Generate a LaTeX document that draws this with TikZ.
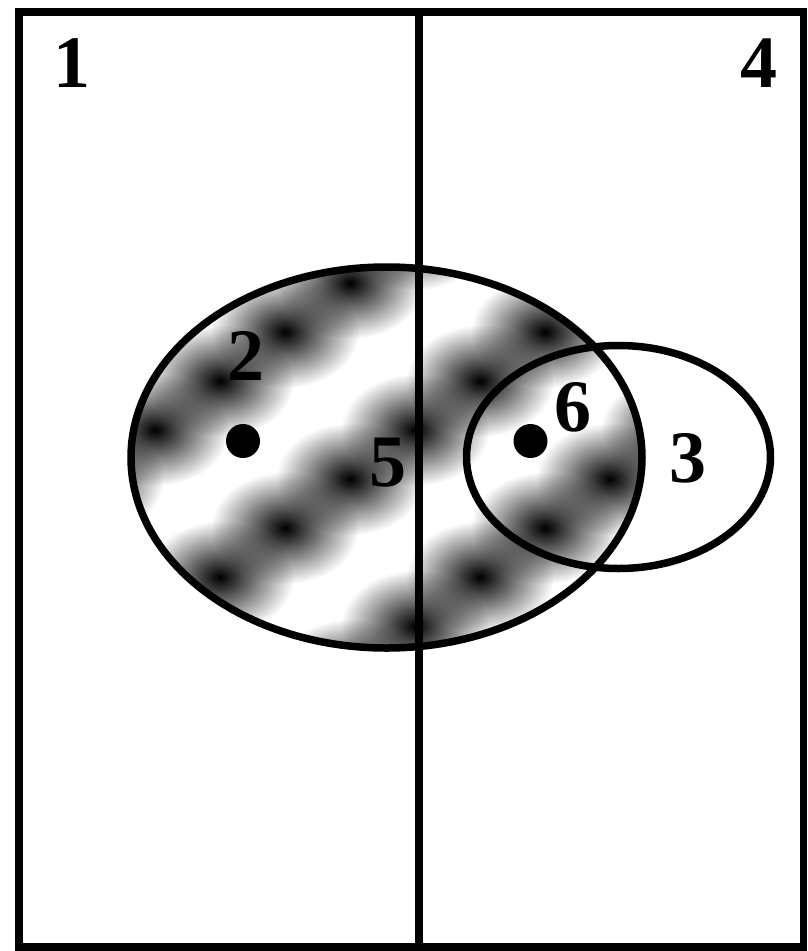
\documentclass[tikz,border=0pt]{standalone}
\usepackage{fontspec}
\setmainfont{Liberation Serif}
\usetikzlibrary{fadings}
\tikzfading[name=spotfade, inner color=transparent!0, outer color=transparent!100]
\begin{document}
\begin{tikzpicture}[x=1pt,y=-1pt,
  edge/.style={line width=7.5pt, black},
  lbl/.style={inner sep=0pt, font=\bfseries\fontsize{74}{74}\selectfont},
  dotmark/.style={fill=black},
  spot/.style={fill=black, path fading=spotfade}]
\useasboundingbox (0,0) rectangle (807,951);
\fill[white] (0,0) rectangle (807,951);
% hatched fill of the big ellipse
\begin{scope}
  \clip (386.5,457.5) ellipse [x radius=255.5, y radius=190.5];
  \foreach \i in {-1,...,8}{
    \foreach \j in {-1,...,8}{
      \pgfmathtruncatemacro{\s}{mod(\i+\j+40,4)}
      \ifnum\s=3
        \fill[spot] ({155+65*\i},{283+49*\j}) ellipse [x radius=74, y radius=56];
      \fi
    }
  }
\end{scope}
% frame and divider
\coordinate (tl) at (19,12);
\coordinate (br) at (803.5,947);
\coordinate (mt) at (419,12);
\coordinate (mb) at (419,947);
\draw[edge] (mt) -- (mb);
\draw[edge] (tl) rectangle (br);
% ellipses
\draw[edge] (386.5,457.5) ellipse [x radius=255.5, y radius=190.5];
\draw[edge] (618.5,457) ellipse [x radius=152, y radius=111.5];
% dots
\fill[dotmark] (243,441) circle [radius=17];
\fill[dotmark] (530.5,441) circle [radius=17];
% labels
\node[lbl] (l1) at (71.5,63) {1};
\node[lbl] (l4) at (758.5,63) {4};
\node[lbl] (l2) at (246,356) {2};
\node[lbl] (l5) at (388,463) {5};
\node[lbl] (l6) at (573,407) {6};
\node[lbl] (l3) at (688,458) {3};
\end{tikzpicture}
\end{document}
